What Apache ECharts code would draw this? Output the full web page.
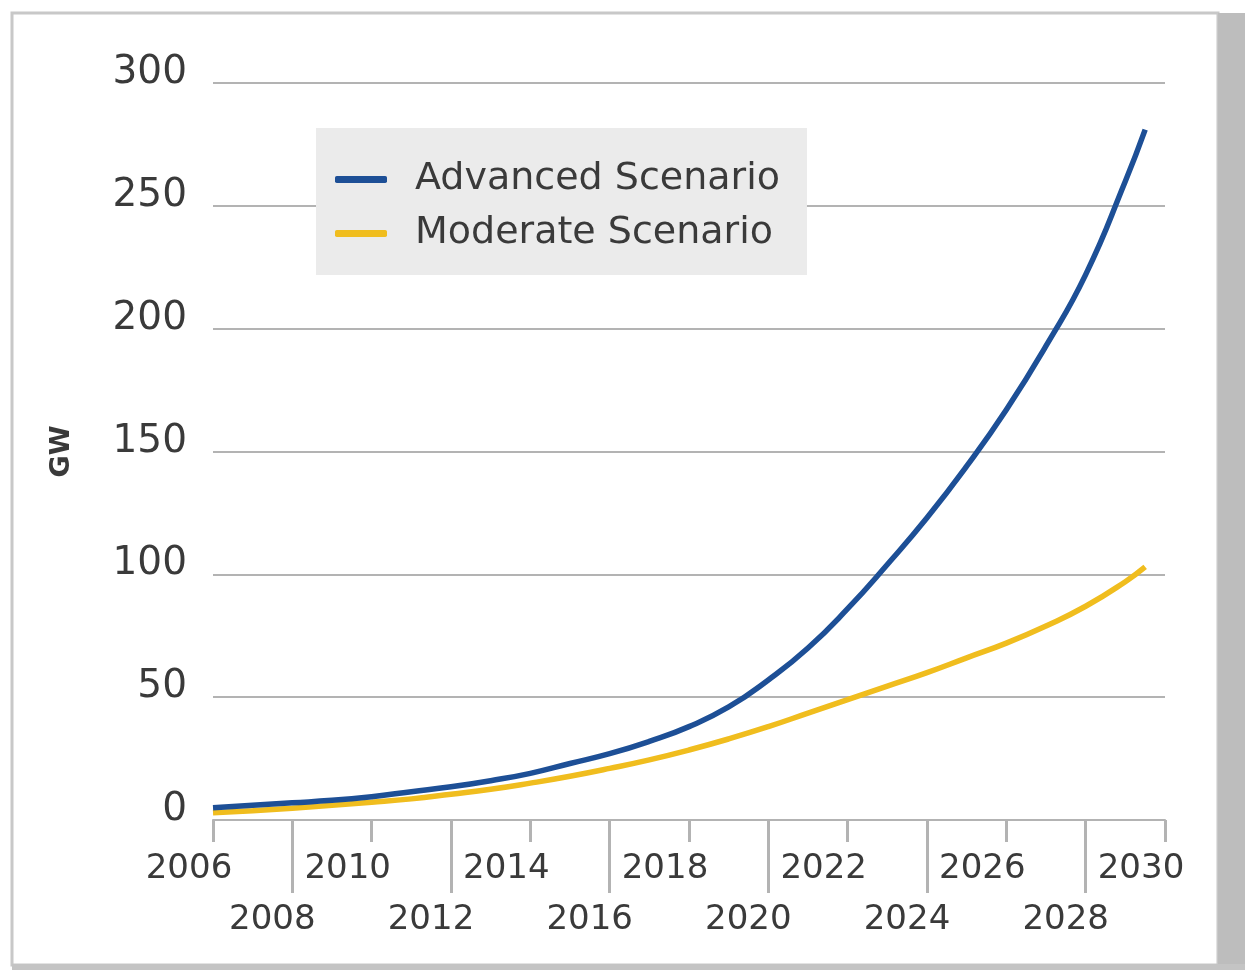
<!DOCTYPE html>
<html>
<head>
<meta charset="utf-8">
<script src="https://cdn.jsdelivr.net/npm/echarts@6/dist/echarts.min.js"></script>
<style>
  html, body { margin: 0; padding: 0; background: #ffffff; }
  #chart { width: 1245px; height: 970px; }
</style>
</head>
<body>
<div id="chart"></div>
<script>
// ---- data ----
var years = [2006, 2007, 2008, 2009, 2010, 2011, 2012, 2013, 2014, 2015, 2016, 2017,
             2018, 2019, 2020, 2021, 2022, 2023, 2024, 2025, 2026, 2027, 2028, 2029, 2029.5];
var advanced = [5, 6, 7, 8, 9.5, 11.5, 13.5, 16, 19, 23, 27, 32,
                38, 46, 57, 70, 86, 104, 123, 144, 167, 193, 222, 260, 281];
var moderate = [3, 3.8, 4.8, 6, 7.2, 8.6, 10.5, 12.5, 15, 17.8, 21, 24.5,
                28.5, 33, 38, 43.5, 49, 54.5, 60, 66, 72, 79, 87, 97, 103];
var tickYears = ['2006','2007','2008','2009','2010','2011','2012','2013','2014','2015','2016','2017',
                 '2018','2019','2020','2021','2022','2023','2024','2025','2026','2027','2028','2029','2030'];
var seriesNames = ['Advanced Scenario', 'Moderate Scenario'];
var yTitle = 'GW';

function pairs(xs, ys) { return xs.map(function (x, i) { return [x, ys[i]]; }); }

var FONT = 'DejaVu Sans';
var GRAY = '#b3b3b3';
var TXT = '#3a3a3a';

var chart = echarts.init(document.getElementById('chart'), null, { renderer: 'canvas' });
chart.setOption({
  animation: false,
  backgroundColor: '#ffffff',
  graphic: [
    { type: 'rect', z: -10, shape: { x: 12, y: 13, width: 1206, height: 952 },
      style: { fill: 'none', stroke: '#c8c8c8', lineWidth: 3 } },
    { type: 'rect', z: -10, shape: { x: 1218, y: 13, width: 27, height: 957 },
      style: { fill: '#bdbdbd' } },
    { type: 'rect', z: -10, shape: { x: 12, y: 964, width: 1233, height: 6 },
      style: { fill: '#c4c4c4' } }
  ],
  legend: {
    data: seriesNames,
    orient: 'vertical',
    left: 316,
    top: 128,
    backgroundColor: '#ebebeb',
    padding: [31, 27, 21, 19],
    itemGap: 13,
    itemWidth: 52,
    itemHeight: 7,
    icon: 'roundRect',
    textStyle: { fontFamily: FONT, fontSize: 38, color: TXT, lineHeight: 41, padding: [0, 0, 0, 23] }
  },
  grid: { left: 213, right: 80, top: 83, bottom: 150, containLabel: false },
  xAxis: [
    { type: 'value', min: 2006, max: 2030, show: false, position: 'bottom' },
    { type: 'category', data: tickYears, boundaryGap: false, position: 'bottom',
      axisLine: { show: true, lineStyle: { color: GRAY, width: 2 } },
      axisTick: { show: true, interval: function (i) { return i % 4 === 0; }, length: 22,
                  lineStyle: { color: GRAY, width: 3 } },
      axisLabel: { interval: function (i) { return i % 4 === 0; }, margin: 32,
                   fontFamily: FONT, fontSize: 34, color: TXT, padding: [0, 48, 0, 0] },
      splitLine: { show: false } },
    { type: 'category', data: tickYears, boundaryGap: false, position: 'bottom',
      axisLine: { show: false },
      axisTick: { show: true, interval: function (i) { return i % 4 === 2; }, length: 73,
                  lineStyle: { color: GRAY, width: 3 } },
      axisLabel: { interval: function (i) { return i % 4 === 2; }, margin: 83,
                   fontFamily: FONT, fontSize: 34, color: TXT, padding: [0, 40, 0, 0] },
      splitLine: { show: false } }
  ],
  yAxis: {
    type: 'value', min: 0, max: 300, interval: 50,
    name: yTitle, nameLocation: 'middle', nameGap: 138, nameRotate: 90,
    nameTextStyle: { fontFamily: FONT, fontSize: 27, fontWeight: 'bold', color: TXT },
    axisLine: { show: false }, axisTick: { show: false },
    axisLabel: { margin: 26, fontFamily: FONT, fontSize: 39, color: TXT,
                 verticalAlign: 'bottom', lineHeight: 20 },
    splitLine: { lineStyle: { color: GRAY, width: 2 } }
  },
  series: [
    { name: seriesNames[0], type: 'line', xAxisIndex: 0, data: pairs(years, advanced),
      smooth: true, showSymbol: false, symbol: 'none',
      lineStyle: { color: '#1d4f96', width: 5.5 }, itemStyle: { color: '#1d4f96' } },
    { name: seriesNames[1], type: 'line', xAxisIndex: 0, data: pairs(years, moderate),
      smooth: true, showSymbol: false, symbol: 'none',
      lineStyle: { color: '#f0bd1e', width: 5.5 }, itemStyle: { color: '#f0bd1e' }, z: 1 }
  ]
});
</script>
</body>
</html>
